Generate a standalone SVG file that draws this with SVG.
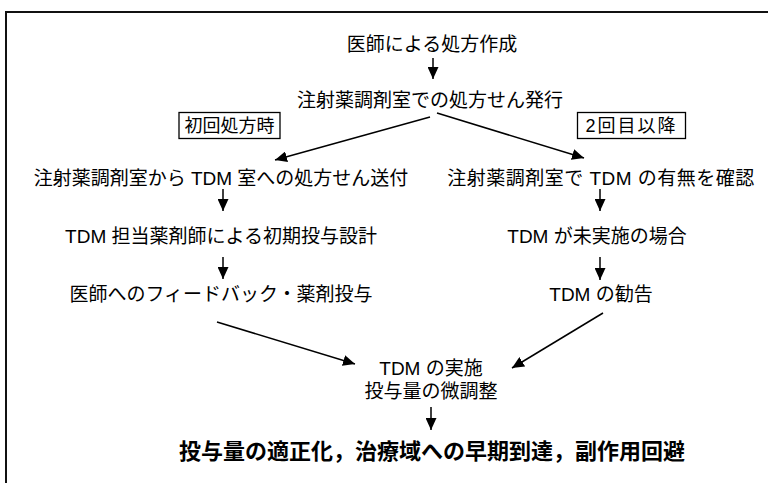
<svg xmlns="http://www.w3.org/2000/svg" width="768" height="483" viewBox="0 0 768 483">
<defs>
<marker id="ah" viewBox="0 0 12 11" markerUnits="userSpaceOnUse" markerWidth="12" markerHeight="11" refX="12" refY="5.5" orient="auto">
<path d="M0,0 L12,5.5 L0,11 z" fill="#000"/>
</marker>
<style>
.t{font-family:"Liberation Sans","Noto Sans CJK JP",sans-serif;font-size:19px;fill:#000;text-anchor:middle}
.b{font-family:"Liberation Sans","Noto Sans CJK JP",sans-serif;font-size:22px;font-weight:bold;fill:#000;text-anchor:middle}
.c line{stroke:#000;stroke-width:1.5;marker-end:url(#ah)}
.box{fill:#fff;stroke:#000;stroke-width:1.3}
.frame{stroke:#111;stroke-width:2;fill:none}
</style>
</defs>
<rect width="768" height="483" fill="#fff"/>
<path class="frame" d="M6,483 L6,12 L768,12"/>
<g id="n_start"><text class="t" x="432" y="51">医師による処方作成</text></g>
<g id="n_issue"><text class="t" x="430" y="107">注射薬調剤室での処方せん発行</text></g>
<g id="lbl_first"><rect class="box" x="179" y="112.5" width="101" height="26"/><text class="t" x="229.5" y="132" style="font-size:18px">初回処方時</text></g>
<g id="lbl_second"><rect class="box" x="577.5" y="112.5" width="108" height="26"/><text class="t" x="631.5" y="132" style="font-size:18px;letter-spacing:2px">2回目以降</text></g>
<g id="n_l1"><text class="t" x="221" y="185">注射薬調剤室から TDM 室への処方せん送付</text></g>
<g id="n_l2"><text class="t" x="221" y="243">TDM 担当薬剤師による初期投与設計</text></g>
<g id="n_l3"><text class="t" x="221" y="301">医師へのフィードバック・薬剤投与</text></g>
<g id="n_r1"><text class="t" x="601" y="185" style="letter-spacing:0.5px">注射薬調剤室で TDM の有無を確認</text></g>
<g id="n_r2"><text class="t" x="597" y="243">TDM が未実施の場合</text></g>
<g id="n_r3"><text class="t" x="601" y="301">TDM の勧告</text></g>
<g id="n_tdm"><text class="t" x="431" y="375">TDM の実施</text><text class="t" x="431" y="398">投与量の微調整</text></g>
<g id="n_result"><text class="b" x="432" y="459">投与量の適正化，治療域への早期到達，副作用回避</text></g>
<g id="connectors" class="c">
<line x1="433" y1="58" x2="433" y2="79"/>
<line x1="430" y1="117" x2="275" y2="160"/>
<line x1="437" y1="113" x2="584" y2="158"/>
<line x1="223" y1="189" x2="223" y2="211"/>
<line x1="223" y1="257" x2="223" y2="279"/>
<line x1="600" y1="189" x2="600" y2="211"/>
<line x1="600" y1="257" x2="600" y2="280"/>
<line x1="217" y1="322" x2="355" y2="364"/>
<line x1="603" y1="313" x2="512" y2="368"/>
<line x1="431" y1="407" x2="431" y2="430"/>
</g>
</svg>
